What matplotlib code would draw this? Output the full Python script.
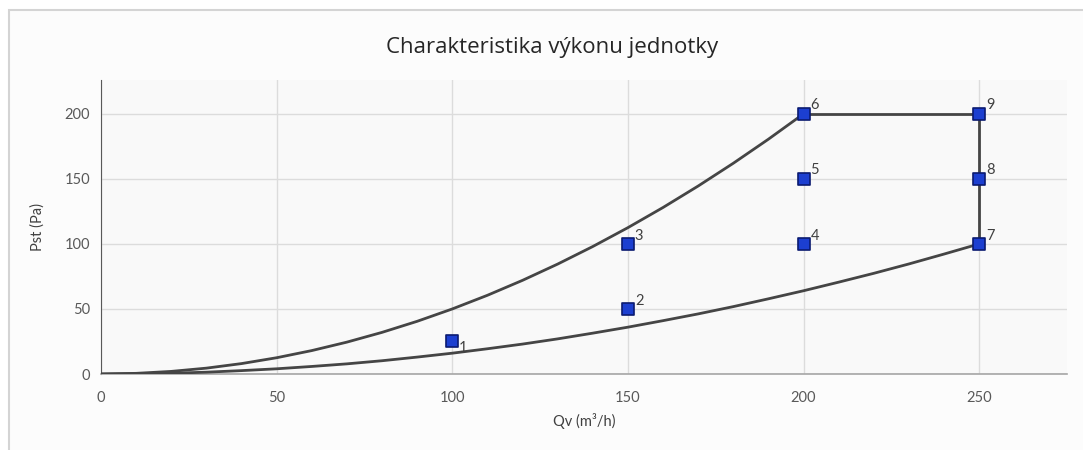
import matplotlib
matplotlib.use("Agg")
import matplotlib.pyplot as plt
from matplotlib.patches import Rectangle

plt.rcParams['font.family'] = ['Lato', 'DejaVu Sans']

# Working points
point_q = [100, 150, 150, 200, 200, 200, 250, 250, 250]
point_p = [25, 50, 100, 100, 150, 200, 100, 150, 200]
point_labels = ["1", "2", "3", "4", "5", "6", "7", "8", "9"]

# Upper system curve (to point 6)
upper_q = [0, 10, 20, 30, 40, 50, 60, 70, 80, 90, 100, 110, 120, 130, 140,
           150, 160, 170, 180, 190, 200]
upper_p = [0, 0.5, 2, 4.5, 8, 12.5, 18, 24.5, 32, 40.5, 50, 60.5, 72, 84.5, 98,
           112.5, 128, 144.5, 162, 180.5, 200]

# Lower system curve (to point 7)
lower_q = [0, 10, 20, 30, 40, 50, 60, 70, 80, 90, 100, 110, 120, 130, 140, 150,
           160, 170, 180, 190, 200, 210, 220, 230, 240, 250]
lower_p = [0, 0.2, 0.6, 1.4, 2.6, 4, 5.8, 7.8, 10.2, 13, 16, 19.4, 23, 27, 31.4, 36,
           41, 46.2, 51.8, 57.8, 64, 70.6, 77.4, 84.6, 92.2, 100]

# Boundary from 7 to 9 to 6
bound_q = [250, 250, 200]
bound_p = [100, 200, 200]

x_ticks = [0, 50, 100, 150, 200, 250]
y_ticks = [0, 50, 100, 150, 200]

fig = plt.figure(figsize=(10.83, 4.5), dpi=100)
fig.patch.set_facecolor("white")
# chart frame (continues past right and bottom edges)
fig.patches.append(Rectangle((9/1083, -0.05), 1.2, 1 - 10/450 + 0.05, transform=fig.transFigure,
                             facecolor="#fcfcfc", edgecolor="#d4d4d4", lw=1.5, zorder=-10))

ax = fig.add_axes([101/1083, (450-374)/450, (1067-101)/1083, (374-80)/450])
ax.set_facecolor("#f9f9f9")

line_col = "#454545"
ax.plot(upper_q, upper_p, color=line_col, lw=2, zorder=3, solid_capstyle="round", solid_joinstyle="round")
ax.plot(lower_q, lower_p, color=line_col, lw=2, zorder=3, solid_capstyle="round", solid_joinstyle="round")
ax.plot(bound_q, bound_p, color=line_col, lw=2, zorder=3)

ax.scatter(point_q, point_p, marker="s", s=68, facecolor="#1c3fd0",
           edgecolor="#0b1a70", linewidths=1.2, zorder=5)
for q, p, lab in zip(point_q, point_p, point_labels):
    off = (5, -10) if lab == "1" else (5, 1)
    ax.annotate(lab, (q, p), xytext=off, textcoords="offset points",
                fontsize=10.5, color="#404040", ha="left", va="bottom")

ax.set_xlim(0, 275)
ax.set_ylim(0, 226)
ax.set_xticks(x_ticks)
ax.set_yticks(y_ticks)
ax.grid(True, color="#dcdcdc", lw=1)
ax.set_axisbelow(True)
for s in ["top", "right"]:
    ax.spines[s].set_visible(False)
ax.spines["left"].set_color("#595959")
ax.spines["bottom"].set_color("#a6a6a6")
ax.spines["bottom"].set_linewidth(1.2)
ax.tick_params(length=0, labelsize=10.5, colors="#595959", pad=8)
ax.tick_params(axis="x", pad=12)

ax.set_xlabel("Qv (m³/h)", fontsize=10.5, color="#404040", labelpad=6)
ax.set_ylabel("Pst (Pa)", fontsize=10.5, color="#404040", labelpad=14)

fig.text(552/1083, 1 - 47/450, "Charakteristika výkonu jednotky", ha="center", va="center",
         fontsize=16, color="#262626", family=["Open Sans", "DejaVu Sans"])

fig.savefig("out.png", dpi=100)
